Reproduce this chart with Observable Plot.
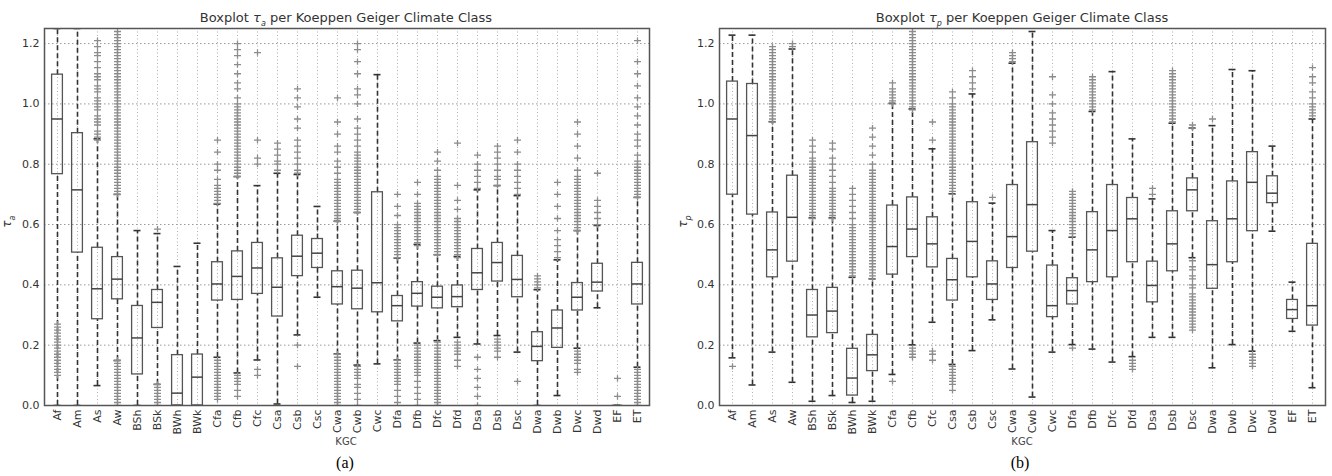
<!DOCTYPE html>
<html><head><meta charset="utf-8">
<script src="https://cdn.jsdelivr.net/npm/d3@7"></script>
<script src="https://cdn.jsdelivr.net/npm/@observablehq/plot@0.6"></script>
<style>
body{margin:0;background:#fff;}
#wrap{position:relative;width:1332px;height:476px;background:#fff;overflow:hidden;font-family:"DejaVu Sans",sans-serif;}
.panel{position:absolute;top:0;width:666px;height:476px;}
.lbl{position:absolute;white-space:nowrap;color:#333;text-align:center;}
</style></head><body><div id="wrap">
<div class="panel" id="pa" style="left:0"></div>
<div class="panel" id="pb" style="left:666px"></div>
</div>
<script>
const categories = ["Af","Am","As","Aw","BSh","BSk","BWh","BWk","Cfa","Cfb","Cfc","Csa","Csb","Csc","Cwa","Cwb","Cwc","Dfa","Dfb","Dfc","Dfd","Dsa","Dsb","Dsc","Dwa","Dwb","Dwc","Dwd","EF","ET"];
const yTicks = [0.0,0.2,0.4,0.6,0.8,1.0,1.2];

// Panel (a): tau_a
const aLo  = [0.0,0.0,0.066,0.149,0.0,0.07,0.0,0.0,0.16,0.108,0.151,0.005,0.234,0.359,0.171,0.134,0.138,0.151,0.207,0.215,0.226,0.204,0.232,0.177,0.0,0.033,0.19,0.324,0.0,0.127];
const aQ1  = [0.767,0.507,0.286,0.352,0.103,0.257,0.0,0.0,0.348,0.350,0.370,0.295,0.429,0.456,0.335,0.319,0.309,0.279,0.328,0.322,0.326,0.383,0.411,0.359,0.147,0.191,0.315,0.378,0.0,0.335];
const aMed = [0.950,0.715,0.387,0.419,0.224,0.342,0.041,0.094,0.403,0.428,0.456,0.392,0.495,0.505,0.394,0.389,0.407,0.331,0.372,0.359,0.361,0.440,0.474,0.418,0.196,0.257,0.359,0.409,0.0,0.403];
const aQ3  = [1.097,0.903,0.523,0.492,0.330,0.383,0.167,0.169,0.475,0.511,0.539,0.488,0.563,0.552,0.445,0.447,0.707,0.363,0.409,0.394,0.398,0.519,0.539,0.496,0.243,0.315,0.406,0.470,0.0,0.473];
const aHi  = [1.25,1.25,0.884,0.70,0.58,0.57,0.461,0.538,0.668,0.759,0.729,0.770,0.766,0.66,0.611,0.640,1.097,0.489,0.534,0.500,0.494,0.715,0.729,0.696,0.384,0.483,0.58,0.597,0.0,0.690];
const aOutHi = [
 [],
 [],
 [0.88,0.89,0.90,0.91,0.93,0.94,0.95,0.96,0.98,0.99,1.00,1.01,1.02,1.04,1.05,1.06,1.08,1.09,1.10,1.12,1.14,1.16,1.17,1.19,1.21],
 [0.70,0.71,0.72,0.73,0.74,0.75,0.76,0.77,0.78,0.79,0.80,0.81,0.82,0.83,0.84,0.85,0.86,0.87,0.88,0.89,0.90,0.91,0.92,0.93,0.94,0.95,0.96,0.97,0.98,0.99,1.00,1.01,1.02,1.03,1.04,1.05,1.06,1.07,1.08,1.09,1.10,1.11,1.12,1.13,1.14,1.15,1.16,1.17,1.18,1.19,1.20,1.21,1.22,1.23,1.24],
 [],
 [0.585],
 [],
 [],
 [0.67,0.68,0.69,0.70,0.71,0.72,0.73,0.75,0.78,0.80,0.84,0.88],
 [0.76,0.77,0.78,0.79,0.80,0.81,0.82,0.83,0.84,0.85,0.86,0.87,0.88,0.89,0.90,0.91,0.92,0.93,0.94,0.95,0.96,0.97,0.98,0.99,1.00,1.02,1.05,1.07,1.10,1.13,1.16,1.18,1.20],
 [0.80,0.82,0.88,1.17],
 [0.78,0.80,0.81,0.83,0.85,0.87],
 [0.77,0.78,0.80,0.82,0.84,0.86,0.88,0.92,0.95,0.99,1.02,1.05],
 [],
 [0.61,0.62,0.63,0.64,0.65,0.66,0.67,0.68,0.69,0.70,0.71,0.72,0.73,0.74,0.75,0.77,0.79,0.81,0.84,0.86,0.90,0.94,1.02],
 [0.64,0.65,0.66,0.67,0.68,0.69,0.70,0.71,0.72,0.73,0.74,0.75,0.76,0.77,0.78,0.79,0.80,0.81,0.82,0.83,0.84,0.86,0.88,0.90,0.92,0.95,1.00,1.03,1.05,1.10,1.14,1.18,1.20],
 [],
 [0.49,0.50,0.51,0.52,0.53,0.54,0.55,0.56,0.57,0.58,0.59,0.60,0.63,0.66,0.70],
 [0.53,0.54,0.55,0.56,0.57,0.58,0.59,0.60,0.61,0.62,0.63,0.64,0.65,0.66,0.67,0.70,0.74],
 [0.50,0.51,0.52,0.53,0.54,0.55,0.56,0.57,0.58,0.59,0.60,0.61,0.62,0.63,0.64,0.65,0.66,0.67,0.68,0.69,0.70,0.71,0.72,0.73,0.74,0.75,0.76,0.78,0.81,0.84],
 [0.49,0.50,0.51,0.52,0.53,0.54,0.55,0.56,0.57,0.58,0.59,0.60,0.61,0.62,0.65,0.68,0.73,0.87],
 [0.72,0.74,0.76,0.78,0.80,0.83],
 [0.73,0.75,0.76,0.78,0.80,0.82,0.84,0.86],
 [0.70,0.72,0.74,0.76,0.78,0.80,0.84,0.88],
 [0.39,0.40,0.41,0.42,0.43],
 [0.49,0.51,0.53,0.55,0.58,0.62,0.66,0.70,0.74],
 [0.58,0.59,0.60,0.61,0.62,0.63,0.64,0.65,0.66,0.67,0.68,0.69,0.70,0.71,0.72,0.73,0.74,0.75,0.76,0.78,0.82,0.86,0.90,0.94],
 [0.60,0.62,0.64,0.66,0.68,0.77],
 [0.03,0.09],
 [0.69,0.70,0.71,0.72,0.73,0.74,0.75,0.76,0.77,0.78,0.79,0.80,0.81,0.83,0.86,0.88,0.90,0.93,0.96,0.99,1.02,1.06,1.10,1.14,1.21]
];
const aOutLo = [
 [0.10,0.11,0.12,0.13,0.14,0.15,0.16,0.17,0.18,0.19,0.20,0.21,0.22,0.23,0.24,0.25,0.26,0.27],
 [],
 [],
 [0.00,0.01,0.02,0.03,0.04,0.05,0.06,0.07,0.08,0.09,0.10,0.11,0.12,0.13,0.14,0.15],
 [],
 [0.00,0.01,0.02,0.03,0.04,0.05,0.06,0.07],
 [],
 [],
 [0.02,0.03,0.04,0.05,0.06,0.07,0.08,0.09,0.10,0.11,0.12,0.13,0.14,0.15],
 [0.03,0.05,0.07,0.08,0.09,0.10],
 [0.10,0.12],
 [],
 [0.13,0.20],
 [],
 [0.00,0.01,0.02,0.03,0.04,0.05,0.06,0.07,0.08,0.09,0.10,0.11,0.12,0.13,0.14,0.15,0.16,0.17],
 [0.00,0.02,0.04,0.06,0.07,0.09,0.10,0.11,0.12,0.13],
 [],
 [0.01,0.03,0.05,0.07,0.08,0.09,0.10,0.11,0.12,0.13,0.14,0.15],
 [0.00,0.02,0.04,0.06,0.08,0.10,0.11,0.12,0.13,0.14,0.15,0.16,0.17,0.18,0.19,0.20],
 [0.00,0.01,0.02,0.03,0.04,0.05,0.06,0.07,0.08,0.09,0.10,0.11,0.12,0.13,0.14,0.15,0.16,0.17,0.18,0.19,0.20,0.21],
 [0.13,0.15,0.17,0.18,0.19,0.20,0.21],
 [0.00,0.03,0.06,0.09,0.12,0.16],
 [0.16,0.18,0.19,0.20,0.21,0.22],
 [0.08],
 [],
 [],
 [0.11,0.12,0.14,0.15,0.16,0.17,0.18],
 [],
 [],
 [0.00,0.01,0.02,0.03,0.04,0.05,0.06,0.07,0.08,0.09,0.10,0.11,0.12]
];

// Panel (b): tau_p
const bLo  = [0.158,0.068,0.177,0.077,0.014,0.033,0.010,0.014,0.103,0.201,0.276,0.136,0.182,0.284,0.121,0.028,0.177,0.202,0.187,0.144,0.162,0.226,0.226,0.49,0.125,0.202,0.18,0.578,0.246,0.059];
const bQ1  = [0.699,0.633,0.425,0.477,0.226,0.240,0.033,0.114,0.434,0.492,0.458,0.348,0.425,0.350,0.456,0.510,0.293,0.335,0.409,0.425,0.475,0.342,0.445,0.644,0.387,0.475,0.578,0.671,0.287,0.265];
const bMed = [0.950,0.895,0.516,0.624,0.300,0.313,0.091,0.168,0.527,0.585,0.536,0.417,0.544,0.403,0.560,0.666,0.331,0.381,0.516,0.580,0.619,0.398,0.536,0.715,0.467,0.619,0.740,0.704,0.318,0.331];
const bQ3  = [1.074,1.066,0.640,0.762,0.383,0.390,0.188,0.234,0.663,0.690,0.624,0.486,0.674,0.478,0.731,0.873,0.464,0.422,0.641,0.731,0.688,0.477,0.644,0.753,0.611,0.743,0.840,0.760,0.350,0.536];
const bHi  = [1.228,1.228,0.941,1.182,0.622,0.622,0.425,0.420,1.002,0.983,0.851,0.702,1.033,0.671,1.135,1.240,0.580,0.558,0.975,1.107,0.884,0.685,0.936,0.920,0.928,1.114,1.110,0.860,0.409,0.950];
const bOutHi = [
 [],
 [],
 [0.94,0.95,0.96,0.97,0.98,0.99,1.00,1.01,1.02,1.03,1.04,1.05,1.06,1.07,1.08,1.09,1.10,1.11,1.12,1.13,1.14,1.15,1.16,1.17,1.18,1.19],
 [1.19,1.20],
 [0.62,0.63,0.64,0.65,0.66,0.67,0.68,0.69,0.70,0.71,0.72,0.73,0.74,0.75,0.76,0.77,0.78,0.79,0.80,0.81,0.82,0.84,0.86,0.88],
 [0.62,0.63,0.64,0.65,0.66,0.67,0.68,0.69,0.70,0.71,0.72,0.74,0.76,0.78,0.80,0.82,0.85,0.87],
 [0.43,0.44,0.45,0.46,0.47,0.48,0.49,0.50,0.51,0.52,0.53,0.54,0.55,0.56,0.57,0.58,0.59,0.60,0.62,0.64,0.66,0.68,0.70,0.72],
 [0.42,0.43,0.44,0.45,0.46,0.47,0.48,0.49,0.50,0.51,0.52,0.53,0.54,0.55,0.56,0.57,0.58,0.59,0.60,0.61,0.62,0.63,0.64,0.65,0.66,0.67,0.68,0.69,0.70,0.71,0.72,0.73,0.74,0.75,0.76,0.77,0.78,0.80,0.83,0.86,0.89,0.92],
 [1.00,1.01,1.02,1.03,1.04,1.05,1.07],
 [0.98,0.99,1.00,1.01,1.02,1.03,1.04,1.05,1.06,1.07,1.08,1.09,1.10,1.11,1.12,1.13,1.14,1.15,1.16,1.17,1.18,1.19,1.20,1.21,1.22,1.23,1.24],
 [0.88,0.94],
 [0.70,0.71,0.72,0.73,0.74,0.75,0.76,0.77,0.78,0.79,0.80,0.81,0.82,0.83,0.84,0.85,0.86,0.87,0.88,0.89,0.90,0.91,0.92,0.93,0.94,0.95,0.96,0.97,0.98,0.99,1.00,1.02,1.04],
 [1.05,1.07,1.09,1.11],
 [0.69],
 [1.14,1.15,1.16,1.17],
 [],
 [0.87,0.89,0.91,0.93,0.95,0.97,1.00,1.03,1.09],
 [0.56,0.57,0.58,0.59,0.60,0.61,0.62,0.63,0.64,0.65,0.66,0.67,0.68,0.69,0.70,0.71],
 [0.98,0.99,1.00,1.01,1.02,1.03,1.04,1.05,1.06,1.07,1.08,1.09],
 [],
 [],
 [0.70,0.72],
 [0.94,0.95,0.96,0.97,0.98,0.99,1.00,1.01,1.02,1.03,1.04,1.05,1.06,1.07,1.08,1.09,1.10,1.11],
 [0.92,0.93],
 [0.95],
 [],
 [],
 [],
 [],
 [0.96,0.97,0.98,0.99,1.00,1.02,1.04,1.07,1.09,1.12]
];
const bOutLo = [
 [0.13],[],[],[],[],[],[],[],
 [0.08],
 [0.16,0.17,0.18,0.19],
 [0.15,0.17,0.18],
 [0.05,0.07,0.08,0.09,0.10,0.11,0.12,0.13],
 [],[],[],[],[],
 [0.19],
 [],[],
 [0.12,0.13,0.14,0.15],
 [],[],
 [0.25,0.26,0.27,0.28,0.29,0.30,0.31,0.32,0.33,0.34,0.35,0.36,0.37,0.39,0.40,0.42,0.43,0.45,0.46,0.48],
 [],[],
 [0.13,0.14,0.15,0.16,0.17],
 [],[],[]
];

function boxTable(lo,q1,med,q3,hi){
  return categories.map((c,i)=>({kgc:c, lo:lo[i], q1:q1[i], med:med[i], q3:q3[i], hi:hi[i]}));
}
function outTable(hiList, loList){
  const rows=[];
  categories.forEach((c,i)=>{
    for (const v of hiList[i]) rows.push({kgc:c, v});
    for (const v of loList[i]) rows.push({kgc:c, v});
  });
  return rows;
}
const plusSymbol = {draw(ctx,size){const r=Math.sqrt(size/Math.PI); ctx.moveTo(-r,0); ctx.lineTo(r,0); ctx.moveTo(0,-r*0.9); ctx.lineTo(0,r*0.9);}};

function panel(boxes, outs, ml, mr){
  const whisk = {stroke:"#333", strokeWidth:1.6, strokeDasharray:"5,3", clip:true};
  return Plot.plot({
    width:666, height:476, marginTop:28, marginBottom:71, marginLeft:ml, marginRight:mr,
    style:{fontFamily:"'DejaVu Sans', sans-serif", fontSize:"11px", color:"#333", background:"transparent", overflow:"visible"},
    x:{type:"band", domain:categories, padding:0, label:null, tickRotate:-90, tickSize:0, tickPadding:4},
    y:{domain:[0,1.25], label:null, ticks:yTicks, tickFormat:d=>d.toFixed(1), tickSize:0, tickPadding:5},
    marks:[
      Plot.ruleY(yTicks,{stroke:"#999", strokeDasharray:"1.5,2.5", strokeWidth:1}),
      Plot.ruleX(categories,{x:d=>d, stroke:"#b0b0b0", strokeDasharray:"1,2.5", strokeWidth:1}),
      Plot.ruleX(boxes,{x:"kgc", y1:"q3", y2:"hi", ...whisk}),
      Plot.ruleX(boxes,{x:"kgc", y1:"lo", y2:"q1", ...whisk}),
      Plot.tickY(boxes,{x:"kgc", y:"hi", inset:6.5, stroke:"#333", strokeWidth:1.6, clip:true}),
      Plot.tickY(boxes,{x:"kgc", y:"lo", inset:6.5, stroke:"#333", strokeWidth:1.6, clip:true}),
      Plot.dot(outs,{x:"kgc", y:"v", symbol:plusSymbol, r:3.5, stroke:"#8c8c8c", fill:"none", strokeWidth:1.3, clip:true}),
      Plot.barY(boxes,{x:"kgc", y1:"q1", y2:"q3", insetLeft:4.6, insetRight:4.6, fill:"none", stroke:"#555", strokeWidth:1.3, clip:true}),
      Plot.tickY(boxes,{x:"kgc", y:"med", inset:4.6, stroke:"#444", strokeWidth:1.5, clip:true}),
      Plot.frame({stroke:"#555", strokeWidth:1.5})
    ]
  });
}

document.getElementById("pa").append(panel(boxTable(aLo,aQ1,aMed,aQ3,aHi), outTable(aOutHi,aOutLo), 44, 17));
document.getElementById("pb").append(panel(boxTable(bLo,bQ1,bMed,bQ3,bHi), outTable(bOutHi,bOutLo), 53, 7));

const wrap = document.getElementById("wrap");
function addLabel(html, css){
  const d = document.createElement("div");
  d.className = "lbl";
  d.innerHTML = html;
  Object.assign(d.style, css);
  wrap.appendChild(d);
}
addLabel('Boxplot <i>τ</i><sub style="font-size:8px;font-style:italic">a</sub> per Koeppen Geiger Climate Class', {left:"146px", width:"400px", top:"9px", fontSize:"13px", lineHeight:"17px", color:"#333"});
addLabel('Boxplot <i>τ</i><sub style="font-size:8px;font-style:italic">p</sub> per Koeppen Geiger Climate Class', {left:"822px", width:"400px", top:"9px", fontSize:"13px", lineHeight:"17px", color:"#333"});
addLabel('<i>τ</i><sub style="font-size:8px;font-style:italic">a</sub>', {left:"-10px", width:"40px", top:"209px", fontSize:"12px", lineHeight:"20px", transform:"rotate(-90deg)", color:"#333"});
addLabel('<i>τ</i><sub style="font-size:8px;font-style:italic">p</sub>', {left:"666px", width:"40px", top:"209px", fontSize:"12px", lineHeight:"20px", transform:"rotate(-90deg)", color:"#333"});
addLabel('KGC', {left:"306px", width:"80px", top:"435px", fontSize:"10px", lineHeight:"14px", color:"#444"});
addLabel('KGC', {left:"982px", width:"80px", top:"435px", fontSize:"10px", lineHeight:"14px", color:"#444"});
addLabel('(a)', {left:"305px", width:"80px", top:"454px", fontSize:"16px", lineHeight:"18px", color:"#000", fontFamily:"'Liberation Serif','DejaVu Serif',serif"});
addLabel('(b)', {left:"980px", width:"80px", top:"454px", fontSize:"16px", lineHeight:"18px", color:"#000", fontFamily:"'Liberation Serif','DejaVu Serif',serif"});
</script></body></html>
